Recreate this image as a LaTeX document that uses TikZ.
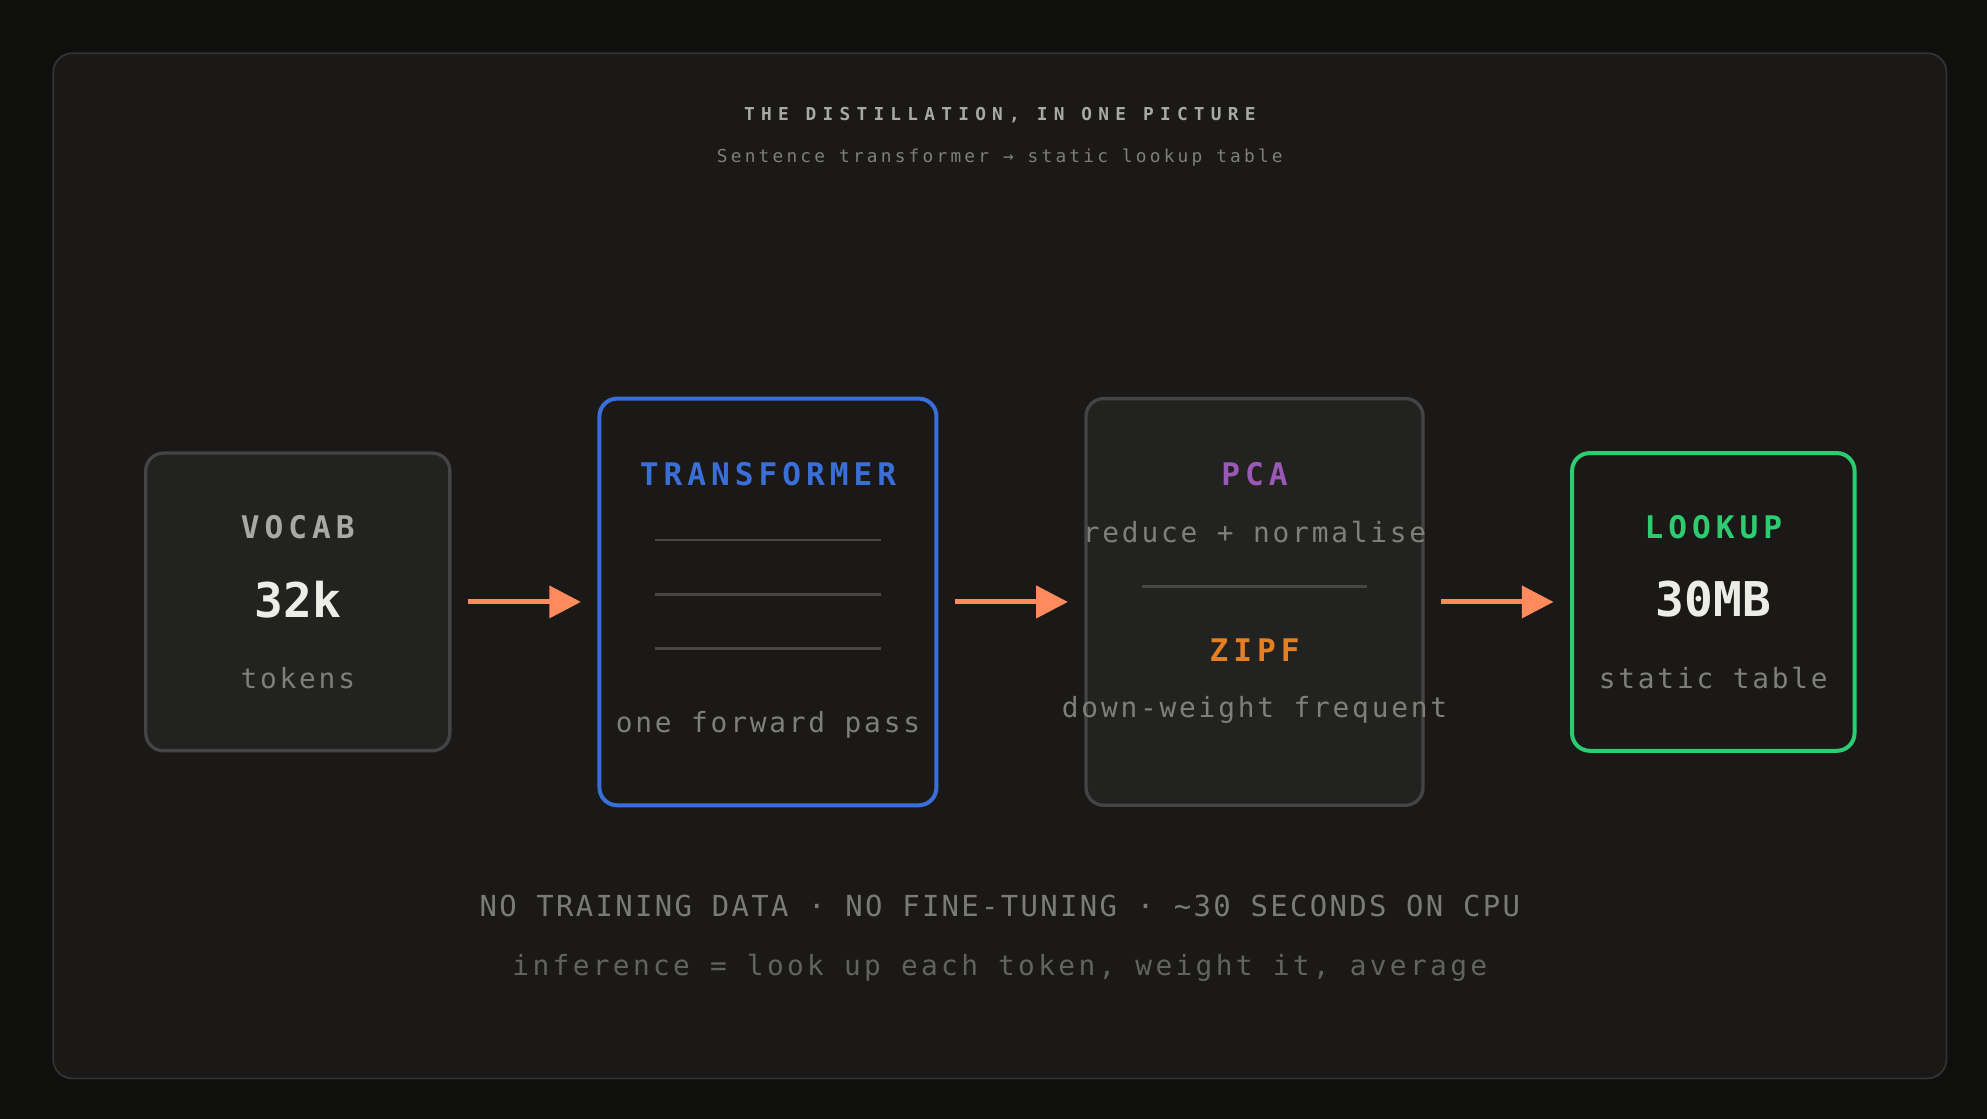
\documentclass[tikz,border=0pt]{standalone}
\usepackage{fontspec}
\usetikzlibrary{arrows.meta}
\setmonofont{DejaVu Sans Mono}
\newfontfamily\titlefont{DejaVu Sans Mono}[LetterSpace=35]
\newfontfamily\subfont{DejaVu Sans Mono}[LetterSpace=18]
\newfontfamily\headfont{DejaVu Sans Mono}[LetterSpace=16]
\newfontfamily\bodyfont{DejaVu Sans Mono}[LetterSpace=10]
\newfontfamily\footfont{DejaVu Sans Mono}[LetterSpace=12]
\newfontfamily\capfont{DejaVu Sans Mono}[LetterSpace=8]
\newfontfamily\bigfont{DejaVu Sans Mono}
\definecolor{bgouter}{HTML}{0F0F0E}
\definecolor{bgframe}{HTML}{1A1918}
\definecolor{framestroke}{HTML}{333333}
\definecolor{boxfill}{HTML}{222220}
\definecolor{boxstroke}{HTML}{444444}
\definecolor{tblue}{HTML}{3B6FD8}
\definecolor{pcapurple}{HTML}{9B59B6}
\definecolor{zipforange}{HTML}{E67E22}
\definecolor{lookgreen}{HTML}{2ECC71}
\definecolor{arroworange}{HTML}{FF8A5B}
\definecolor{headgray}{HTML}{A8A8A4}
\definecolor{bodygray}{HTML}{7E7E7A}
\definecolor{capgray}{HTML}{7A7A76}
\definecolor{notegray}{HTML}{626260}
\definecolor{bigwhite}{HTML}{EDEDE8}
\tikzset{
  box/.style={draw=boxstroke, fill=boxfill, line width=1.5pt, rounded corners=0.28cm},
  head/.style={font=\headfont\bfseries\fontsize{14}{16}\selectfont},
  body/.style={font=\bodyfont\fontsize{12.5}{14}\selectfont, text=bodygray},
  big/.style={font=\bigfont\bfseries\fontsize{21.5}{24}\selectfont, text=bigwhite},
  rule/.style={draw=white!20!bgframe, line width=1.2pt},
  flow/.style={draw=arroworange, line width=2.2pt, -{Triangle[length=0.5cm, width=0.5cm]},
    shorten <=0.26cm, shorten >=0.26cm},
}
\begin{document}
\begin{tikzpicture}[x=0.02cm, y=-0.02cm]
\fill[bgouter] (0,0) rectangle (1568,883);
\filldraw[fill=bgframe, draw=framestroke, line width=0.8pt, rounded corners=0.3cm] (42,42) rectangle (1536,851);
\node[text=headgray, font=\titlefont\bfseries\fontsize{8}{9}\selectfont] (title) at (789,91) {THE DISTILLATION, IN ONE PICTURE};
\node[text=bodygray, font=\subfont\fontsize{8}{9}\selectfont] (subtitle) at (789,124) {Sentence transformer → static lookup table};

% boxes
\node[box, minimum width=4.8cm, minimum height=4.7cm] (vocab) at (235,475) {};
\node[box, draw=tblue, fill=bgframe, line width=1.8pt, minimum width=5.32cm, minimum height=6.42cm] (trans) at (606,475) {};
\node[box, minimum width=5.32cm, minimum height=6.42cm] (pca) at (990,475) {};
\node[box, draw=lookgreen, fill=bgframe, line width=1.8pt, minimum width=4.46cm, minimum height=4.7cm] (lookup) at (1352,475) {};

% vocab
\node[head, text=headgray] (vocabhead) at (235,416) {VOCAB};
\node[big] (vocabnum) at (235,473) {32k};
\node[body] (vocabsub) at (235,535) {tokens};

% transformer
\node[head, text=tblue] (transhead) at (606,374) {TRANSFORMER};
\foreach \y in {426,469,512}
  \draw[rule] (517,\y) -- (695,\y);
\node[body] (transsub) at (606,572) {one forward pass};

% pca / zipf
\node[head, text=pcapurple] (pcahead) at (990,374) {PCA};
\node[body] (pcasub) at (990,420) {reduce + normalise};
\draw[rule] (901,463) -- (1079,463);
\node[head, text=zipforange] (zipfhead) at (990,513) {ZIPF};
\node[body] (zipfsub) at (990,560) {down-weight frequent};

% lookup
\node[head, text=lookgreen] (lookhead) at (1352,416) {LOOKUP};
\node[big] (looknum) at (1352,473) {30MB};
\node[body] (looksub) at (1352,535) {static table};

% arrows
\draw[flow] (vocab.east) -- (trans.west);
\draw[flow] (trans.east) -- (pca.west);
\draw[flow] (pca.east) -- (lookup.west);

% footer
\node[text=capgray, font=\capfont\fontsize{13}{15}\selectfont] (footcaps) at (789,715) {NO TRAINING DATA · NO FINE-TUNING · \textasciitilde30 SECONDS ON CPU};
\node[text=notegray, font=\footfont\fontsize{12.5}{14}\selectfont] (footnote) at (789,764) {inference = look up each token, weight it, average};
\end{tikzpicture}
\end{document}
